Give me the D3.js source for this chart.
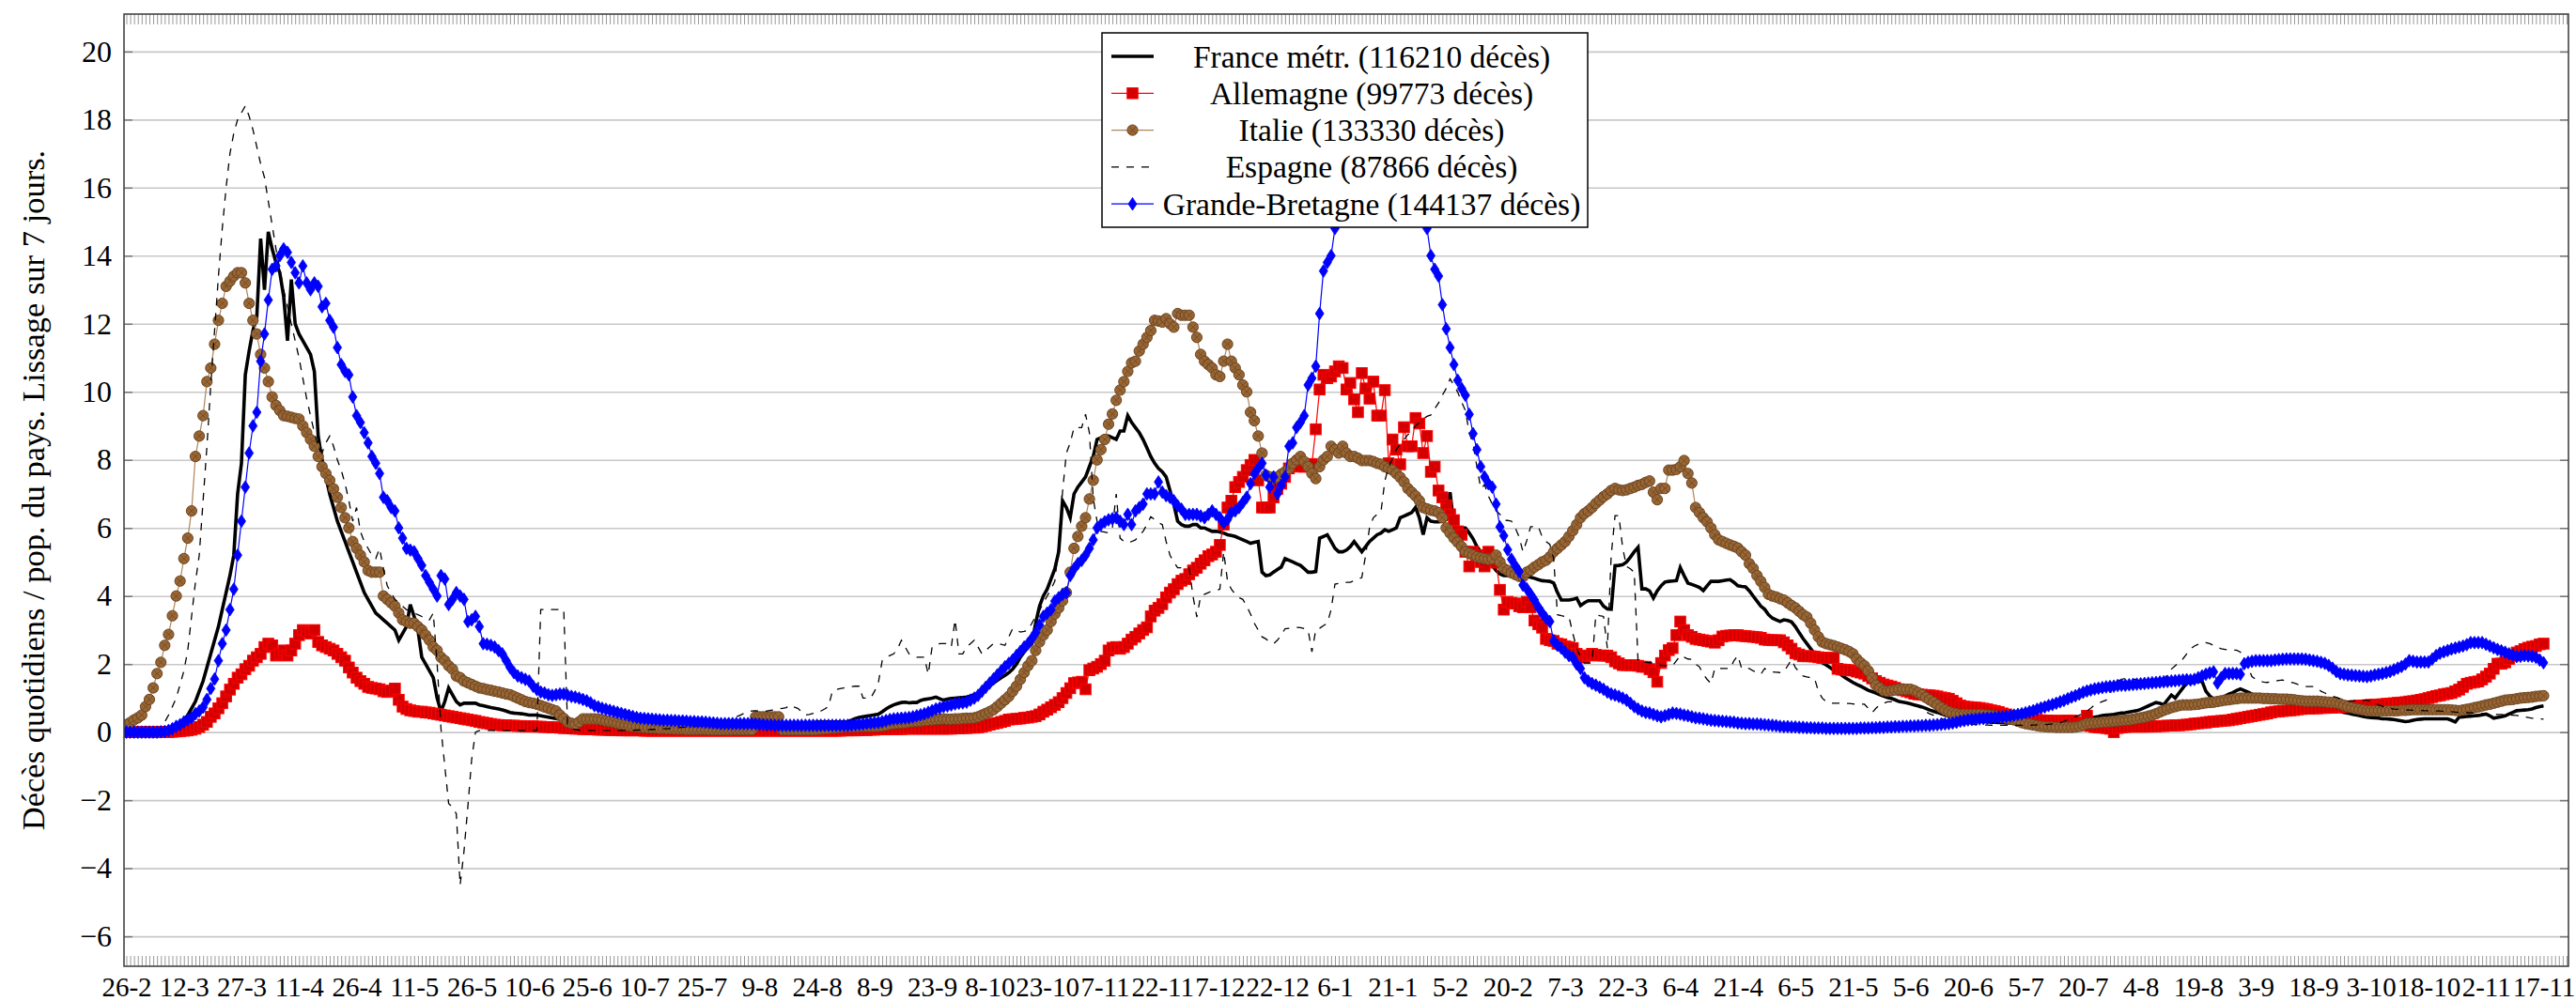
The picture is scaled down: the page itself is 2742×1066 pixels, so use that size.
<!DOCTYPE html>
<html><head><meta charset="utf-8">
<script src="https://cdn.jsdelivr.net/npm/d3@7"></script>
<style>body{margin:0;background:#fff}</style>
</head><body>
<svg id="c" width="2742" height="1066"></svg>
<script>
// ---------- DATA (daily values from 26-2-2020 to 17-11-2021, deaths per million, 7-day smoothing) ----------
const tickLabels = ["26-2","12-3","27-3","11-4","26-4","11-5","26-5","10-6","25-6","10-7","25-7","9-8","24-8","8-9","23-9","8-10","23-10","7-11","22-11","7-12","22-12","6-1","21-1","5-2","20-2","7-3","22-3","6-4","21-4","6-5","21-5","5-6","20-6","5-7","20-7","4-8","19-8","3-9","18-9","3-10","18-10","2-11","17-11"];
const yTickValues = [-6,-4,-2,0,2,4,6,8,10,12,14,16,18,20];
const seriesNames = ["France métr. (116210 décès)","Allemagne (99773 décès)","Italie (133330 décès)","Espagne (87866 décès)","Grande-Bretagne (144137 décès)"];

const france = [
0,0,0,0,0,0.01,0.01,0.02,0.03,0.04,
0.06,0.08,0.1,0.15,0.25,0.35,0.5,0.7,0.9,1.2,
1.5,1.9,2.3,2.7,3.1,3.6,4.1,4.6,5.2,7.0,
7.9,10.5,11.2,11.8,12.2,14.5,13.0,14.7,14.2,13.8,
13.5,12.8,11.5,13.3,12.0,11.7,11.5,11.3,11.1,10.6,
8.7,8.0,7.5,7.0,6.6,6.2,5.9,5.6,5.3,5.0,
4.7,4.4,4.1,3.9,3.7,3.5,3.4,3.3,3.2,3.1,
3.0,2.7,2.9,3.1,3.75,3.4,3.0,2.2,2.0,1.8,
1.6,1.0,0.6,0.9,1.3,1.1,0.9,0.8,0.85,0.85,
0.85,0.85,0.8,0.78,0.75,0.72,0.7,0.68,0.65,0.62,
0.58,0.56,0.55,0.54,0.52,0.5,0.5,0.5,0.48,0.46,
0.44,0.42,0.4,0.38,0.36,0.34,0.33,0.32,0.31,0.3,
0.29,0.28,0.27,0.26,0.25,0.24,0.23,0.22,0.22,0.21,
0.21,0.2,0.2,0.19,0.19,0.18,0.18,0.17,0.17,0.16,
0.16,0.15,0.15,0.14,0.14,0.13,0.12,0.12,0.12,0.12,
0.12,0.12,0.12,0.13,0.13,0.13,0.13,0.13,0.14,0.14,
0.14,0.14,0.14,0.14,0.15,0.15,0.16,0.17,0.18,0.19,
0.2,0.21,0.22,0.23,0.24,0.25,0.26,0.27,0.28,0.28,
0.29,0.3,0.3,0.3,0.3,0.3,0.3,0.3,0.31,0.35,
0.4,0.43,0.45,0.47,0.49,0.51,0.53,0.6,0.68,0.75,
0.8,0.84,0.87,0.88,0.86,0.87,0.87,0.93,0.96,0.98,
1.0,1.03,0.98,0.94,0.97,0.99,1.0,1.01,1.02,1.03,
1.06,1.1,1.14,1.2,1.28,1.36,1.44,1.52,1.6,1.67,
1.75,1.85,2.0,2.2,2.35,2.5,2.6,3.2,3.7,4.0,
4.2,4.5,4.8,5.3,6.8,6.6,6.3,7.0,7.2,7.35,
7.5,7.8,8.1,8.6,8.65,8.7,8.7,8.65,8.6,8.85,
8.85,9.3,9.1,8.95,8.8,8.6,8.35,8.1,7.9,7.75,
7.65,7.5,7.1,6.7,6.2,6.1,6.05,6.05,6.1,6.1,
6.0,6.0,5.95,5.9,5.9,5.88,5.85,5.8,5.78,5.75,
5.7,5.65,5.6,5.55,5.58,5.6,4.7,4.6,4.62,4.7,
4.78,4.85,5.1,5.05,5.0,4.95,4.9,4.8,4.7,4.7,4.72,
5.7,5.75,5.8,5.6,5.4,5.3,5.3,5.35,5.45,5.6,
5.45,5.3,5.45,5.6,5.7,5.8,5.85,5.95,5.9,5.95,
6.0,6.3,6.35,6.4,6.45,6.6,6.3,5.8,6.3,6.2,
6.18,6.18,6.2,6.25,7.05,6.07,6.0,6.0,6.0,5.85,
5.68,5.45,5.3,5.15,5.05,4.9,4.75,4.65,4.6,4.6,
4.6,4.6,4.6,4.6,4.58,4.55,4.52,4.48,4.45,4.44,
4.43,4.38,4.1,3.88,3.88,3.88,3.9,3.94,3.72,3.8,
3.86,3.86,3.86,3.86,3.7,3.62,3.61,4.89,4.9,4.92,
5.0,5.14,5.3,5.43,4.21,4.21,4.15,3.94,4.15,4.3,
4.41,4.43,4.44,4.45,4.84,4.6,4.38,4.34,4.3,4.25,
4.16,4.3,4.43,4.43,4.43,4.45,4.47,4.48,4.4,4.3,
4.28,4.27,4.15,4.0,3.85,3.7,3.61,3.45,3.35,3.3,
3.25,3.3,3.28,3.24,3.1,2.92,2.75,2.6,2.45,2.3,
2.15,2.04,1.98,1.9,1.82,1.75,1.68,1.6,1.53,1.46,
1.4,1.35,1.29,1.23,1.19,1.15,1.1,1.06,1.02,0.99,
0.95,0.9,0.88,0.86,0.83,0.8,0.77,0.74,0.7,0.65,
0.61,0.58,0.54,0.5,0.47,0.45,0.43,0.41,0.39,0.37,
0.35,0.33,0.32,0.31,0.3,0.29,0.29,0.28,0.28,0.27,
0.27,0.26,0.26,0.25,0.25,0.25,0.25,0.25,0.25,0.26,
0.26,0.26,0.26,0.27,0.29,0.31,0.33,0.35,0.37,0.39,
0.4,0.42,0.44,0.46,0.49,0.5,0.51,0.52,0.54,0.56,
0.57,0.59,0.61,0.63,0.67,0.72,0.77,0.82,0.87,0.85,
0.8,0.95,1.09,1.0,1.15,1.3,1.45,1.45,1.48,1.49,
1.49,1.2,1.06,0.98,0.96,1.0,1.06,1.12,1.16,1.22,
1.27,1.22,1.17,1.12,1.05,1.0,0.98,0.96,0.94,0.93,
0.92,0.91,0.9,0.89,0.86,0.83,0.8,0.77,0.75,0.72,
0.7,0.68,0.67,0.66,0.64,0.63,0.61,0.58,0.56,0.53,
0.51,0.49,0.46,0.44,0.43,0.42,0.41,0.39,0.39,0.38,
0.37,0.35,0.33,0.31,0.32,0.35,0.37,0.38,0.39,0.39,
0.39,0.39,0.39,0.39,0.39,0.35,0.3,0.44,0.45,0.46,
0.47,0.48,0.49,0.51,0.53,0.48,0.41,0.43,0.45,0.48,
0.53,0.58,0.63,0.64,0.65,0.66,0.68,0.72,0.75,0.77];

const allemagne = [
0,0,0,0,0,0,0,0,0,0,
0,0,0.01,0.02,0.03,0.04,0.05,0.07,0.1,0.15,
0.22,0.3,0.45,0.55,0.7,0.85,1.05,1.25,1.42,1.6,
1.7,1.85,1.95,2.1,2.2,2.3,2.5,2.6,2.55,2.25,
2.3,2.4,2.25,2.4,2.6,2.85,3.0,2.95,2.9,3.0,
2.65,2.55,2.5,2.45,2.4,2.3,2.2,2.1,1.9,1.75,
1.6,1.5,1.42,1.33,1.3,1.28,1.26,1.2,1.18,1.22,
1.28,0.95,0.75,0.68,0.64,0.62,0.6,0.6,0.58,0.57,
0.55,0.53,0.51,0.49,0.47,0.45,0.43,0.41,0.39,0.37,
0.35,0.33,0.3,0.28,0.26,0.24,0.22,0.21,0.2,0.2,
0.19,0.19,0.18,0.18,0.17,0.17,0.17,0.16,0.16,0.15,
0.15,0.14,0.14,0.13,0.12,0.12,0.11,0.1,0.1,0.09,
0.09,0.08,0.08,0.07,0.07,0.07,0.06,0.06,0.06,0.05,
0.05,0.05,0.05,0.05,0.05,0.04,0.04,0.04,0.04,0.04,
0.04,0.04,0.04,0.04,0.04,0.04,0.04,0.04,0.04,0.04,
0.04,0.04,0.04,0.04,0.04,0.04,0.04,0.04,0.04,0.04,
0.04,0.04,0.04,0.04,0.04,0.04,0.04,0.04,0.04,0.04,
0.04,0.04,0.04,0.04,0.04,0.04,0.04,0.04,0.04,0.04,
0.04,0.04,0.04,0.04,0.04,0.04,0.04,0.05,0.05,0.05,
0.05,0.06,0.06,0.06,0.07,0.07,0.08,0.08,0.08,0.09,
0.09,0.09,0.09,0.1,0.1,0.1,0.1,0.1,0.1,0.1,
0.1,0.1,0.1,0.1,0.1,0.1,0.11,0.11,0.12,0.12,
0.13,0.13,0.14,0.16,0.19,0.22,0.25,0.27,0.3,0.33,
0.37,0.38,0.39,0.4,0.42,0.43,0.45,0.47,0.52,0.6,
0.66,0.73,0.8,0.88,1.0,1.15,1.29,1.44,1.46,1.48,
1.26,1.82,1.87,1.92,2.0,2.1,2.4,2.48,2.5,2.45,
2.5,2.6,2.72,2.8,2.9,3.0,3.08,3.4,3.57,3.65,
3.76,3.96,4.1,4.2,4.35,4.45,4.5,4.64,4.75,4.83,
4.95,5.05,5.17,5.22,5.3,5.5,6.1,6.6,6.8,7.2,
7.35,7.5,7.7,7.85,8.0,7.4,6.6,6.6,6.6,6.9,
7.15,7.3,7.5,7.75,7.84,7.84,7.8,7.8,7.84,7.88,8.9,
10.07,10.5,10.4,10.45,10.6,10.75,10.7,10.07,10.26,9.78,
9.4,10.55,10.1,9.8,10.3,9.3,9.3,10.05,7.9,8.6,
8.3,7.87,8.96,8.4,8.4,9.23,9.07,8.2,8.7,7.65,
7.8,7.1,6.9,6.67,6.4,6.23,5.9,5.8,5.3,4.87,
5.3,5.2,5.0,4.87,5.3,5.1,4.98,4.18,3.6,3.83,
3.8,3.78,3.7,3.67,3.83,3.67,3.28,3.17,3.07,2.74,
2.7,2.68,2.6,2.58,2.52,2.5,2.47,2.3,2.25,2.19,
2.25,2.3,2.27,2.25,2.25,2.25,2.2,2.08,2.02,1.97,
1.97,1.97,1.97,1.95,1.92,1.92,1.85,1.76,1.48,2.03,
2.25,2.41,2.47,2.85,3.25,3.0,2.85,2.8,2.74,2.72,
2.7,2.68,2.66,2.63,2.7,2.81,2.83,2.84,2.85,2.85,
2.83,2.82,2.81,2.8,2.79,2.77,2.72,2.71,2.7,2.7,
2.7,2.64,2.55,2.45,2.32,2.28,2.23,2.23,2.23,2.22,
2.2,2.18,2.18,2.18,2.18,1.86,1.84,1.83,1.82,1.81,
1.78,1.75,1.72,1.65,1.58,1.5,1.45,1.4,1.37,1.34,
1.3,1.26,1.23,1.2,1.17,1.13,1.11,1.1,1.09,1.08,
1.07,1.05,1.02,1.0,0.98,0.92,0.85,0.78,0.75,0.74,
0.73,0.72,0.71,0.69,0.67,0.64,0.62,0.59,0.55,0.52,
0.48,0.46,0.43,0.41,0.39,0.38,0.37,0.36,0.35,0.34,
0.34,0.33,0.33,0.33,0.33,0.34,0.34,0.3,0.25,0.2,
0.48,0.18,0.15,0.14,0.13,0.12,0.1,0.0,0.12,0.14,
0.15,0.16,0.16,0.16,0.16,0.16,0.16,0.17,0.17,0.18,
0.18,0.19,0.19,0.2,0.2,0.21,0.22,0.23,0.25,0.26,
0.27,0.28,0.3,0.31,0.32,0.33,0.34,0.35,0.37,0.39,
0.41,0.43,0.45,0.47,0.49,0.51,0.53,0.55,0.58,0.6,
0.61,0.62,0.63,0.64,0.65,0.67,0.68,0.69,0.69,0.7,
0.7,0.71,0.71,0.72,0.72,0.73,0.73,0.74,0.75,0.76,
0.77,0.78,0.78,0.79,0.8,0.81,0.81,0.82,0.83,0.84,
0.85,0.86,0.87,0.88,0.9,0.91,0.93,0.95,0.97,1.0,
1.03,1.06,1.08,1.11,1.13,1.15,1.2,1.25,1.33,1.42,
1.45,1.47,1.49,1.55,1.63,1.72,1.86,2.01,2.01,2.05,
2.15,2.25,2.34,2.38,2.44,2.48,2.51,2.53,2.58,2.6];

const italie = [
0.22,0.28,0.36,0.42,0.5,0.75,0.96,1.3,1.72,2.05,
2.55,2.87,3.42,4.0,4.44,5.1,5.7,6.5,8.1,8.7,
9.3,10.3,10.7,11.4,12.1,12.6,13.1,13.25,13.4,13.5,
13.5,13.2,12.6,12.1,11.7,11.1,10.7,10.3,9.85,9.6,
9.45,9.3,9.28,9.25,9.22,9.2,9.0,8.8,8.6,8.4,
8.1,7.8,7.6,7.4,7.15,6.9,6.6,6.3,6.0,5.6,
5.4,5.2,5.0,4.75,4.7,4.7,4.7,4.0,3.9,3.8,
3.7,3.5,3.3,3.25,3.2,3.2,3.1,3.0,2.85,2.7,
2.5,2.4,2.2,2.1,1.95,1.85,1.65,1.6,1.5,1.45,
1.4,1.35,1.3,1.28,1.25,1.23,1.2,1.18,1.15,1.12,
1.1,1.05,1.0,0.95,0.9,0.87,0.85,0.82,0.78,0.74,
0.7,0.66,0.62,0.5,0.4,0.3,0.26,0.23,0.3,0.39,
0.39,0.39,0.39,0.38,0.36,0.33,0.31,0.29,0.26,0.23,
0.21,0.19,0.17,0.16,0.15,0.14,0.13,0.12,0.12,0.11,
0.11,0.1,0.1,0.09,0.09,0.09,0.08,0.08,0.08,0.08,
0.08,0.08,0.07,0.07,0.07,0.07,0.07,0.07,0.07,0.07,
0.07,0.07,0.07,0.07,0.45,0.45,0.45,0.45,0.45,0.45,
0.45,0.07,0.07,0.07,0.07,0.07,0.07,0.07,0.07,0.07,
0.08,0.09,0.1,0.11,0.12,0.13,0.14,0.15,0.16,0.16,
0.16,0.17,0.17,0.17,0.17,0.17,0.17,0.18,0.2,0.23,
0.25,0.26,0.27,0.28,0.3,0.31,0.32,0.33,0.34,0.35,
0.36,0.37,0.38,0.39,0.38,0.38,0.39,0.39,0.4,0.41,
0.41,0.42,0.45,0.5,0.55,0.6,0.66,0.75,0.85,0.95,
1.05,1.2,1.35,1.55,1.75,1.95,2.1,2.4,2.65,2.85,
3.0,3.25,3.47,3.65,3.86,4.1,4.7,5.4,5.75,6.05,
6.3,6.85,7.4,8.0,8.3,8.6,9.05,9.35,9.75,10.05,
10.3,10.6,10.85,10.9,11.2,11.4,11.6,11.8,12.1,12.08,
12.05,12.15,12.0,11.9,12.3,12.25,12.25,12.25,11.9,11.6,
11.1,10.9,10.8,10.7,10.5,10.45,10.9,11.4,10.9,10.7,
10.5,10.2,10.0,9.4,9.15,8.7,8.2,7.55,7.5,7.45,
7.5,7.58,7.65,7.74,7.9,8.0,8.1,7.95,7.8,7.6,7.45,
7.8,8.0,8.1,8.4,8.3,8.2,8.4,8.2,8.1,8.1,
8.05,7.98,7.98,7.98,7.95,7.9,7.87,7.8,7.75,7.7,
7.6,7.49,7.35,7.16,7.05,6.94,6.8,6.6,6.56,6.52,
6.5,6.45,6.3,6.0,5.85,5.7,5.58,5.45,5.3,5.25,
5.2,5.15,5.12,5.1,5.08,5.1,5.2,5.0,4.81,4.75,
4.68,4.63,4.58,4.56,4.7,4.76,4.85,4.92,5.0,5.05,
5.15,5.3,5.4,5.5,5.6,5.75,5.92,6.1,6.3,6.42,
6.5,6.6,6.72,6.82,6.92,7.0,7.1,7.16,7.12,7.1,
7.12,7.16,7.2,7.25,7.28,7.34,7.38,7.05,6.83,7.16,
7.16,7.7,7.7,7.72,7.8,7.98,7.6,7.32,6.6,6.45,
6.3,6.18,6.0,5.8,5.65,5.6,5.55,5.5,5.46,5.41,
5.3,5.2,4.95,4.81,4.6,4.43,4.25,4.05,4.0,3.97,
3.92,3.88,3.8,3.72,3.65,3.55,3.45,3.38,3.2,3.0,
2.8,2.65,2.6,2.57,2.54,2.5,2.46,2.42,2.37,2.3,
2.15,2.04,1.95,1.8,1.6,1.38,1.3,1.22,1.2,1.22,
1.24,1.26,1.26,1.26,1.26,1.22,1.16,1.1,1.02,0.95,
0.88,0.8,0.72,0.65,0.6,0.56,0.54,0.52,0.52,0.52,
0.52,0.52,0.52,0.51,0.5,0.49,0.48,0.46,0.43,0.41,
0.39,0.36,0.32,0.28,0.25,0.23,0.21,0.19,0.17,0.16,
0.15,0.15,0.14,0.14,0.14,0.14,0.14,0.15,0.17,0.21,
0.25,0.26,0.27,0.28,0.29,0.3,0.31,0.32,0.33,0.34,
0.35,0.36,0.38,0.4,0.42,0.44,0.47,0.5,0.54,0.59,
0.64,0.68,0.72,0.75,0.78,0.8,0.8,0.8,0.81,0.82,
0.84,0.86,0.87,0.88,0.9,0.92,0.94,0.95,0.97,0.98,
1.0,1.0,1.0,1.0,1.0,1.0,0.99,0.99,0.98,0.98,
0.97,0.97,0.97,0.96,0.95,0.93,0.92,0.91,0.91,0.91,
0.91,0.9,0.89,0.88,0.87,0.86,0.83,0.79,0.75,0.72,
0.69,0.67,0.65,0.63,0.63,0.63,0.63,0.63,0.63,0.63,
0.63,0.63,0.64,0.64,0.65,0.66,0.66,0.66,0.66,0.66,
0.66,0.66,0.66,0.66,0.66,0.65,0.64,0.63,0.65,0.67,
0.69,0.72,0.74,0.77,0.8,0.82,0.85,0.88,0.91,0.94,
0.95,0.96,0.98,1.0,1.01,1.02,1.03,1.05,1.06,1.07];

const espagne = [
0,0,0,0,0,0,0,0.01,0.02,0.05,
0.3,0.5,0.75,1.0,1.4,1.8,2.4,3.4,4.4,5.2,
6.8,8.4,10.2,11.8,13.4,14.8,16.0,17.0,17.6,18.0,
18.2,18.4,18.1,17.7,17.2,16.7,16.3,15.6,14.9,14.2,
13.6,13.0,12.5,12.0,11.5,11.0,10.4,9.8,9.3,8.8,
8.4,8.2,8.5,8.7,8.4,8.0,7.7,7.3,6.8,6.2,
6.6,5.9,5.6,5.4,5.2,5.1,5.4,4.8,4.3,4.1,
3.9,3.8,3.7,3.6,3.55,3.5,3.45,3.4,3.3,3.3,
3.5,2.0,0.1,-1.0,-2.1,-2.2,-2.4,-4.5,-3.5,-2.2,
-0.8,0,0.05,0.05,0.05,0.05,0.05,0.05,0.05,0.05,
0.05,0.05,0.05,0.05,0.05,0.05,0.05,0.05,3.6,3.6,
3.6,3.6,3.6,3.6,3.6,0.2,0.1,0.08,0.06,0.05,
0.05,0.05,0.05,0.05,0.05,0.05,0.05,0.05,0.05,0.05,
0.05,0.05,0.05,0.06,0.06,0.07,0.07,0.08,0.08,0.09,
0.1,0.1,0.11,0.12,0.13,0.14,0.15,0.16,0.17,0.18,
0.2,0.22,0.24,0.26,0.28,0.3,0.33,0.36,0.4,0.45,
0.5,0.55,0.6,0.62,0.63,0.62,0.6,0.62,0.64,0.66,
0.68,0.7,0.72,0.8,0.74,0.7,0.6,0.5,0.52,0.55,
0.57,0.62,0.68,0.75,1.2,1.25,1.28,1.3,1.32,1.34,
1.35,1.35,1.0,1.0,1.0,1.2,1.45,2.1,2.2,2.25,
2.3,2.45,2.7,2.5,2.3,2.25,2.2,2.2,2.2,1.7,
2.5,2.55,2.6,2.6,2.6,2.5,3.3,2.3,2.3,2.5,
2.6,2.7,2.5,2.3,2.4,2.5,2.6,2.6,2.58,2.55,
2.8,3.04,3.0,2.94,2.96,2.99,3.2,3.4,3.57,3.8,
4.0,4.2,4.44,5.5,7.06,8.2,8.5,8.95,8.95,8.95,
9.34,8.8,6.87,6.2,5.9,5.88,5.85,6.0,7.0,5.7,
5.6,5.56,5.6,5.65,5.78,5.9,6.1,6.33,6.25,6.15,
6.1,5.6,5.2,5.0,4.83,4.83,4.83,4.83,4.0,3.38,
4.0,4.05,4.1,4.15,4.17,4.2,5.3,4.44,4.2,4.05,
3.95,3.9,3.7,3.47,3.2,3.0,2.8,2.74,2.65,2.6,
2.7,2.85,3.04,3.05,3.06,3.08,3.07,3.04,3.0,2.36,3.0,
3.05,3.13,3.2,3.6,4.35,4.37,4.38,4.4,4.4,4.45,
4.5,4.54,5.2,6.0,6.3,6.4,6.48,7.38,7.8,8.03,
8.3,8.47,8.6,8.74,8.85,9.0,9.1,9.2,9.28,9.32,
9.5,9.67,9.9,10.1,10.38,10.2,9.99,9.7,9.45,8.8,
8.47,7.8,7.16,7.27,6.94,6.7,6.5,6.4,6.23,6.22,
6.2,6.0,5.74,5.3,5.63,6.04,6.04,6.04,5.74,5.6,
5.52,5.1,3.45,3.42,3.4,3.39,2.9,2.47,2.2,2.03,
2.03,2.03,3.45,3.42,3.4,2.47,5.19,6.36,6.36,5.41,
4.87,4.8,4.7,2.08,2.06,2.05,2.04,2.03,2.0,1.97,
1.96,1.95,1.95,2.1,2.25,2.2,2.15,2.14,2.0,1.92,
1.7,1.55,1.43,1.87,1.87,1.87,1.87,1.87,2.1,2.25,
1.87,1.87,1.87,1.8,1.75,1.7,1.87,1.8,1.77,1.76,
1.75,1.77,1.95,2.13,1.9,1.77,1.65,1.62,1.6,1.58,
1.2,1.0,0.9,0.85,0.85,0.85,0.85,0.85,0.84,0.83,
0.82,0.82,0.82,0.7,0.57,0.7,0.8,0.85,0.89,0.89,
0.89,0.89,0.88,0.86,0.84,0.8,0.75,0.68,0.6,0.54,
0.5,0.45,0.4,0.36,0.32,0.3,0.28,0.26,0.25,0.24,
0.23,0.22,0.22,0.21,0.21,0.2,0.2,0.2,0.2,0.2,
0.2,0.2,0.2,0.2,0.2,0.2,0.21,0.21,0.22,0.22,
0.23,0.24,0.25,0.28,0.32,0.36,0.4,0.45,0.5,0.55,
0.62,0.7,0.8,0.85,0.9,0.94,1.1,1.44,1.5,1.55,
1.58,1.58,1.56,1.54,1.5,1.46,1.44,1.44,1.46,1.5,
1.54,1.7,1.85,1.95,2.05,2.15,2.3,2.45,2.53,2.58,
2.63,2.63,2.6,2.55,2.49,2.45,2.43,2.41,2.41,2.41,
2.35,2.2,1.9,1.63,1.55,1.5,1.47,1.46,1.48,1.5,
1.52,1.53,1.5,1.47,1.44,1.4,1.37,1.34,1.34,1.34,
1.3,1.2,1.15,1.1,1.06,1.02,0.98,0.95,0.92,0.91,
0.92,0.93,0.94,0.94,0.9,0.85,0.8,0.76,0.72,0.7,
0.68,0.67,0.66,0.65,0.65,0.64,0.64,0.64,0.63,0.63,
0.63,0.62,0.62,0.61,0.6,0.6,0.59,0.58,0.58,0.57,
0.57,0.56,0.56,0.55,0.54,0.53,0.53,0.52,0.52,0.51,
0.5,0.5,0.49,0.47,0.45,0.43,0.41,0.4,0.39,0.38];

const grandeBretagne = [
0,0,0,0,0,0,0,0,0,0.01,
0.02,0.05,0.1,0.17,0.22,0.3,0.36,0.42,0.54,0.62,
0.73,0.96,1.28,1.56,2.1,2.6,3.0,3.6,4.2,5.2,
6.2,7.2,8.2,9.0,9.4,10.9,11.7,12.7,13.6,13.7,
14.0,14.2,14.1,13.8,13.5,13.2,13.7,13.2,13.0,13.2,
13.1,12.5,12.6,12.1,11.9,11.3,10.8,10.6,10.5,9.85,
9.3,9.1,8.8,8.5,8.1,7.9,7.6,6.9,6.8,6.6,
6.5,6.0,5.7,5.4,5.35,5.3,5.1,4.9,4.6,4.4,
4.2,4.0,4.6,4.5,3.75,3.9,4.1,4.0,3.9,3.25,
3.3,3.4,3.1,2.6,2.58,2.55,2.5,2.4,2.3,2.1,
1.9,1.75,1.65,1.6,1.55,1.5,1.35,1.25,1.18,1.15,
1.1,1.08,1.1,1.12,1.12,1.08,1.05,1.03,1.0,0.96,
0.92,0.86,0.78,0.74,0.7,0.67,0.64,0.61,0.58,0.55,
0.52,0.49,0.46,0.43,0.41,0.4,0.39,0.38,0.37,0.36,
0.35,0.35,0.34,0.34,0.33,0.33,0.32,0.31,0.31,0.3,
0.3,0.29,0.28,0.27,0.26,0.25,0.25,0.25,0.25,0.25,
0.25,0.25,0.25,0.25,0.24,0.23,0.22,0.21,0.21,0.2,
0.2,0.2,0.2,0.2,0.2,0.2,0.2,0.2,0.2,0.2,
0.2,0.2,0.2,0.2,0.2,0.2,0.2,0.2,0.2,0.21,
0.22,0.23,0.24,0.26,0.27,0.28,0.29,0.31,0.34,0.37,
0.39,0.4,0.41,0.42,0.43,0.45,0.48,0.51,0.54,0.58,
0.63,0.68,0.71,0.75,0.77,0.8,0.83,0.85,0.86,0.88,
0.94,1.0,1.08,1.2,1.32,1.44,1.56,1.68,1.8,1.92,
2.02,2.12,2.25,2.37,2.5,2.6,2.75,2.92,3.15,3.4,
3.5,3.6,3.85,3.95,4.05,4.1,4.6,4.8,4.95,5.05,
5.2,5.4,5.65,6.0,6.1,6.18,6.24,6.27,6.3,6.2,
6.1,6.4,6.1,6.5,6.6,6.7,7.0,7.0,7.0,7.35,
7.05,6.95,6.9,6.8,6.65,6.55,6.4,6.4,6.4,6.4,
6.35,6.3,6.4,6.5,6.4,6.3,6.15,6.25,6.45,6.5,
6.6,6.75,6.9,7.3,7.6,7.75,7.9,7.55,7.2,7.5,
7.0,7.25,7.5,8.4,8.5,8.95,9.1,9.3,10.2,10.4,10.75,
12.3,13.55,13.8,14.0,14.8,15.5,16.2,16.8,17.3,17.8,
18.1,18.3,18.45,18.55,18.6,18.65,18.6,18.5,18.3,18.1,
18.0,17.7,17.4,17.1,16.8,16.5,16.1,15.6,14.8,14.0,
13.6,13.4,12.56,11.85,11.3,10.8,10.34,10.1,9.9,9.34,
8.77,8.3,7.8,7.5,7.3,7.2,6.7,6.03,5.77,5.36,
5.08,4.89,4.72,4.32,4.21,4.05,3.88,3.67,3.5,3.35,
3.25,2.68,2.55,2.47,2.35,2.25,2.19,2.0,1.87,1.6,
1.5,1.43,1.38,1.32,1.26,1.18,1.12,1.09,1.05,1.0,
0.94,0.85,0.75,0.68,0.62,0.58,0.56,0.52,0.48,0.45,
0.48,0.52,0.56,0.55,0.53,0.5,0.48,0.45,0.42,0.41,
0.39,0.37,0.35,0.34,0.33,0.32,0.31,0.3,0.29,0.27,
0.26,0.25,0.25,0.24,0.24,0.23,0.22,0.21,0.2,0.19,
0.17,0.16,0.16,0.15,0.15,0.14,0.14,0.13,0.13,0.12,
0.12,0.12,0.11,0.11,0.11,0.11,0.11,0.11,0.11,0.11,
0.11,0.12,0.12,0.12,0.13,0.13,0.14,0.14,0.15,0.15,
0.16,0.16,0.17,0.17,0.18,0.18,0.19,0.19,0.2,0.2,
0.21,0.22,0.23,0.24,0.25,0.27,0.29,0.32,0.34,0.36,
0.37,0.38,0.39,0.4,0.41,0.42,0.43,0.44,0.45,0.46,
0.48,0.5,0.52,0.54,0.57,0.6,0.63,0.67,0.71,0.74,
0.78,0.81,0.85,0.89,0.93,0.98,1.03,1.07,1.12,1.17,
1.21,1.24,1.27,1.29,1.31,1.33,1.34,1.35,1.37,1.38,
1.38,1.39,1.4,1.41,1.42,1.43,1.44,1.45,1.46,1.47,
1.48,1.49,1.5,1.51,1.52,1.53,1.54,1.53,1.55,1.6,
1.65,1.7,1.74,1.77,1.44,1.6,1.72,1.72,1.72,1.72,
1.7,2.01,2.05,2.08,2.1,2.1,2.1,2.1,2.1,2.12,
2.13,2.14,2.15,2.15,2.15,2.15,2.15,2.14,2.12,2.1,
2.08,2.05,2.02,1.96,1.88,1.78,1.72,1.7,1.68,1.67,
1.66,1.65,1.64,1.63,1.65,1.68,1.7,1.72,1.75,1.78,
1.83,1.88,1.93,2.0,2.1,2.08,2.06,2.06,2.06,2.06,
2.15,2.25,2.32,2.36,2.4,2.44,2.47,2.5,2.53,2.57,
2.63,2.63,2.63,2.63,2.58,2.53,2.48,2.43,2.39,2.35,
2.3,2.26,2.22,2.23,2.25,2.24,2.23,2.2,2.12,2.04];

// ---------- CHART ----------
const FONT = '"Liberation Serif","Times New Roman",serif';
const M = {l:132, t:15, r:2734, b:1029};
const svg = d3.select('#c');
const x = d3.scaleLinear().domain([-0.61, 636.5]).range([M.l, M.r]);
const y = d3.scaleLinear().domain([-6.88, 21.1]).range([M.b, M.t]);

// length check (only shown if wrong)
const lens = [france, allemagne, italie, espagne, grandeBretagne].map(a=>a.length);
if (lens.some(l=>l!==631)) svg.append('text').attr('x',5).attr('y',12).attr('font-size',12).attr('fill','red').text('len '+lens.join(','));

// horizontal grid
svg.append('g').attr('transform',`translate(${M.l},0)`)
  .call(d3.axisLeft(y).tickValues(yTickValues).tickSize(-(M.r-M.l)).tickFormat(''))
  .call(g=>g.select('.domain').remove())
  .call(g=>g.selectAll('line').attr('stroke','#c8c8c8').attr('stroke-width',1.6));

// daily minor ticks (top & bottom, inward)
const days = d3.range(0, 637);
svg.append('g').attr('transform',`translate(0,${M.b})`)
  .call(d3.axisTop(x).tickValues(days).tickSize(11).tickFormat(''))
  .call(g=>g.select('.domain').remove())
  .call(g=>g.selectAll('line').attr('stroke','#9a9a9a').attr('stroke-width',1));
svg.append('g').attr('transform',`translate(0,${M.t})`)
  .call(d3.axisBottom(x).tickValues(days).tickSize(11).tickFormat(''))
  .call(g=>g.select('.domain').remove())
  .call(g=>g.selectAll('line').attr('stroke','#9a9a9a').attr('stroke-width',1));

// x labels
svg.append('g').attr('transform',`translate(0,${M.b})`)
  .call(d3.axisBottom(x).tickValues(d3.range(0, 631, 15)).tickSize(0).tickPadding(11)
        .tickFormat((d,i)=>tickLabels[i]))
  .call(g=>g.select('.domain').remove())
  .call(g=>g.selectAll('text').attr('font-family',FONT).attr('font-size',29).attr('fill','#000'));

// y labels + inward ticks left / right
svg.append('g').attr('transform',`translate(${M.l},0)`)
  .call(d3.axisLeft(y).tickValues(yTickValues).tickSizeInner(-9).tickSizeOuter(0).tickPadding(13))
  .call(g=>g.select('.domain').remove())
  .call(g=>g.selectAll('line').attr('stroke','#777').attr('stroke-width',1.5))
  .call(g=>g.selectAll('text').attr('font-family',FONT).attr('font-size',32).attr('fill','#000'));
svg.append('g').attr('transform',`translate(${M.r},0)`)
  .call(d3.axisRight(y).tickValues(yTickValues).tickSizeInner(-9).tickSizeOuter(0).tickFormat(''))
  .call(g=>g.select('.domain').remove())
  .call(g=>g.selectAll('line').attr('stroke','#777').attr('stroke-width',1.5));

// clip
svg.append('clipPath').attr('id','clip').append('rect')
  .attr('x',M.l).attr('y',M.t).attr('width',M.r-M.l).attr('height',M.b-M.t);
const plot = svg.append('g').attr('clip-path','url(#clip)');

const line = d3.line().x((d,i)=>x(i)).y(d=>y(d));

const COL = {
  fr:'#000', de:'#ff0000', deFill:'#d40000', it:'#b0845a', itFill:'#996633', itStroke:'#6b4523',
  es:'#000', uk:'#0000ff'
};
const SQ = 11.5, CR = 5.6, DW = 4.5, DH = 6.8;
function squareMark(g, s){ g.append('rect').attr('x',-s/2).attr('y',-s/2).attr('width',s).attr('height',s)
  .attr('fill',COL.deFill).attr('stroke',COL.de).attr('stroke-width',1); }
function otimesMark(g, r){
  g.append('circle').attr('r',r).attr('fill',COL.itFill).attr('stroke',COL.itStroke).attr('stroke-width',1);
  const k=r*0.7;
  g.append('path').attr('d',`M${-k},${-k}L${k},${k}M${-k},${k}L${k},${-k}`).attr('stroke',COL.itStroke).attr('stroke-width',0.8);
}
function diamondMark(g, hw, hh){ g.append('path').attr('d',`M0,${-hh}L${hw},0L0,${hh}L${-hw},0Z`).attr('fill',COL.uk).attr('stroke',COL.uk).attr('stroke-width',0.8); }

// France
plot.append('path').datum(france).attr('d',line).attr('fill','none').attr('stroke',COL.fr)
  .attr('stroke-width',3.6).attr('stroke-linejoin','miter').attr('stroke-miterlimit',4);

// Allemagne
plot.append('path').datum(allemagne).attr('d',line).attr('fill','none').attr('stroke',COL.de).attr('stroke-width',1.2);
plot.append('g').selectAll('g').data(allemagne).join('g')
  .attr('transform',(d,i)=>`translate(${x(i)},${y(d)})`).each(function(){ squareMark(d3.select(this), SQ); });

// Italie
plot.append('path').datum(italie).attr('d',line).attr('fill','none').attr('stroke',COL.it).attr('stroke-width',1.2);
plot.append('g').selectAll('g').data(italie).join('g')
  .attr('transform',(d,i)=>`translate(${x(i)},${y(d)})`).each(function(){ otimesMark(d3.select(this), CR); });

// Espagne
plot.append('path').datum(espagne).attr('d',line).attr('fill','none').attr('stroke',COL.es)
  .attr('stroke-width',1.3).attr('stroke-dasharray','8,8');

// Grande-Bretagne
plot.append('path').datum(grandeBretagne).attr('d',line).attr('fill','none').attr('stroke',COL.uk).attr('stroke-width',1.2);
plot.append('g').selectAll('g').data(grandeBretagne).join('g')
  .attr('transform',(d,i)=>`translate(${x(i)},${y(d)})`).each(function(){ diamondMark(d3.select(this), DW, DH); });

// frame
svg.append('rect').attr('x',M.l).attr('y',M.t).attr('width',M.r-M.l).attr('height',M.b-M.t)
  .attr('fill','none').attr('stroke','#444').attr('stroke-width',1.6);

// y title
svg.append('text').attr('transform',`translate(35,${(M.t+M.b)/2}) rotate(-90)`)
  .attr('text-anchor','middle').attr('dominant-baseline','central')
  .attr('font-family',FONT).attr('font-size',34.5).text('Décès quotidiens / pop. du pays. Lissage sur 7 jours.');

// legend
const L = {x:1173, y:35, w:517, h:207};
const lg = svg.append('g');
lg.append('rect').attr('x',L.x).attr('y',L.y).attr('width',L.w).attr('height',L.h)
  .attr('fill','#fff').attr('stroke','#000').attr('stroke-width',1.5);
const rowY = i => L.y + 25 + i*39.3;
const sx0 = L.x+10, sx1 = L.x+55, smid = (sx0+sx1)/2;
seriesNames.forEach((name,i)=>{
  const yy = rowY(i);
  const g = lg.append('g');
  if (i===0) g.append('line').attr('x1',sx0).attr('x2',sx1).attr('y1',yy).attr('y2',yy).attr('stroke','#000').attr('stroke-width',3.6);
  if (i===1){ g.append('line').attr('x1',sx0).attr('x2',sx1).attr('y1',yy).attr('y2',yy).attr('stroke',COL.de).attr('stroke-width',1.2);
    squareMark(g.append('g').attr('transform',`translate(${smid},${yy})`), SQ); }
  if (i===2){ g.append('line').attr('x1',sx0).attr('x2',sx1).attr('y1',yy).attr('y2',yy).attr('stroke',COL.it).attr('stroke-width',1.2);
    otimesMark(g.append('g').attr('transform',`translate(${smid},${yy})`), CR); }
  if (i===3) g.append('line').attr('x1',sx0).attr('x2',sx1).attr('y1',yy).attr('y2',yy).attr('stroke','#000').attr('stroke-width',1.3).attr('stroke-dasharray','8,8');
  if (i===4){ g.append('line').attr('x1',sx0).attr('x2',sx1).attr('y1',yy).attr('y2',yy).attr('stroke',COL.uk).attr('stroke-width',1.2);
    diamondMark(g.append('g').attr('transform',`translate(${smid},${yy})`), DW, DH); }
  g.append('text').attr('x',L.x+287).attr('y',yy).attr('text-anchor','middle').attr('dominant-baseline','central')
    .attr('font-family',FONT).attr('font-size',33.5).text(name);
});
</script>
</body></html>
